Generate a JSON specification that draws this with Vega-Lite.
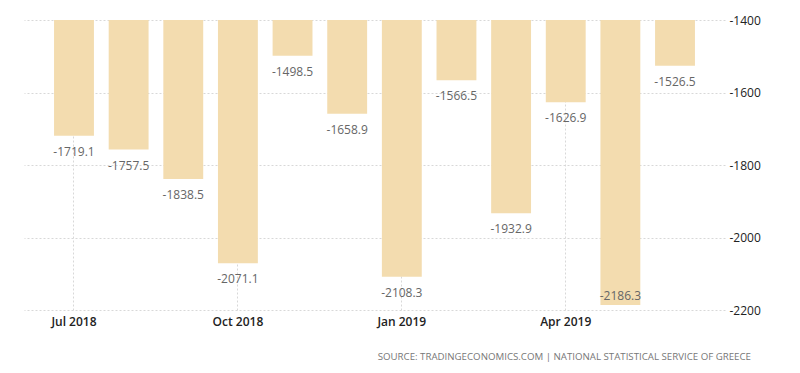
{
  "$schema": "https://vega.github.io/schema/vega-lite/v6.json",
  "width": 701,
  "height": 290,
  "padding": {"left": 24, "top": 14, "right": 5, "bottom": 5},
  "autosize": {"type": "pad"},
  "background": "white",
  "config": {"view": {"stroke": null}, "font": "Open Sans"},
  "data": {
    "values": [
      {"month": "Jul 2018", "value": -1719.1},
      {"month": "Aug 2018", "value": -1757.5},
      {"month": "Sep 2018", "value": -1838.5},
      {"month": "Oct 2018", "value": -2071.1},
      {"month": "Nov 2018", "value": -1498.5},
      {"month": "Dec 2018", "value": -1658.9},
      {"month": "Jan 2019", "value": -2108.3},
      {"month": "Feb 2019", "value": -1566.5},
      {"month": "Mar 2019", "value": -1932.9},
      {"month": "Apr 2019", "value": -1626.9},
      {"month": "May 2019", "value": -2186.3},
      {"month": "Jun 2019", "value": -1526.5}
    ]
  },
  "encoding": {
    "x": {
      "field": "month",
      "type": "ordinal",
      "sort": null,
      "scale": {"paddingInner": 0.27, "paddingOuter": 0.55},
      "axis": {
        "title": null,
        "values": ["Jul 2018", "Oct 2018", "Jan 2019", "Apr 2019"],
        "labelAngle": 0,
        "grid": true,
        "gridColor": "#d8d8d8",
        "gridDash": [2, 2],
        "ticks": false,
        "domain": false,
        "labelFontSize": 12,
        "labelFontWeight": 600,
        "labelColor": "#222222",
        "labelPadding": 6
      }
    }
  },
  "layer": [
    {
      "mark": {"type": "bar", "color": "#F3DCAF"},
      "encoding": {
        "y": {
          "field": "value",
          "type": "quantitative",
          "scale": {"domain": [-2200, -1400], "nice": false, "zero": false},
          "axis": {
            "orient": "right",
            "title": null,
            "values": [-2200, -2000, -1800, -1600, -1400],
            "labelExpr": "'' + datum.value",
            "grid": true,
            "gridColor": "#d8d8d8",
            "gridDash": [2, 2],
            "ticks": false,
            "domain": false,
            "labelFontSize": 12,
            "labelColor": "#222222",
            "labelPadding": 4
          }
        },
        "y2": {"datum": -1400}
      }
    },
    {
      "transform": [{"filter": "datum.value > -2150"}],
      "mark": {"type": "text", "baseline": "top", "dy": 11, "fontSize": 12, "color": "#666666"},
      "encoding": {
        "y": {"field": "value", "type": "quantitative"},
        "text": {"field": "value", "type": "nominal"}
      }
    },
    {
      "transform": [{"filter": "datum.value <= -2150"}],
      "mark": {"type": "text", "baseline": "bottom", "dy": -2, "fontSize": 12, "color": "#666666"},
      "encoding": {
        "y": {"field": "value", "type": "quantitative"},
        "text": {"field": "value", "type": "nominal"}
      }
    }
  ],
  "title": {
    "text": "SOURCE: TRADINGECONOMICS.COM | NATIONAL STATISTICAL SERVICE OF GREECE",
    "orient": "bottom",
    "anchor": "end",
    "frame": "group",
    "dx": 26,
    "offset": 25,
    "fontSize": 9.7,
    "fontWeight": "normal",
    "color": "#777777"
  }
}
